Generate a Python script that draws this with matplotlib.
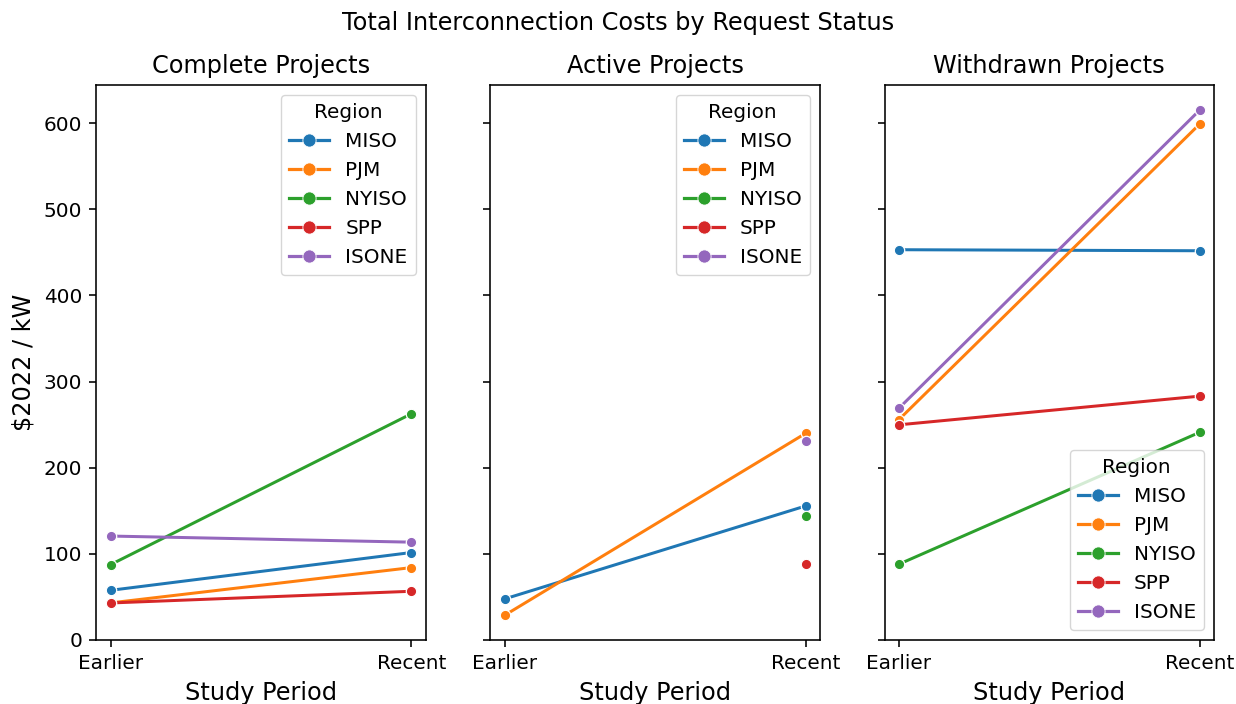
import numpy as np
import matplotlib
matplotlib.use("Agg")
import matplotlib.pyplot as plt

periods = ["Earlier", "Recent"]
regions = ["MISO", "PJM", "NYISO", "SPP", "ISONE"]
colors = ["#1f77b4", "#ff7f0e", "#2ca02c", "#d62728", "#9467bd"]
panel_titles = ["Complete Projects", "Active Projects", "Withdrawn Projects"]

complete_vals = {
    "MISO": [57.6, 101.5],
    "PJM": [43.0, 84.0],
    "NYISO": [87.4, 262.6],
    "SPP": [42.9, 56.5],
    "ISONE": [120.6, 113.5],
}
active_vals = {
    "MISO": [47.6, 155.5],
    "PJM": [28.6, 239.8],
    "NYISO": [np.nan, 143.5],
    "SPP": [np.nan, 87.8],
    "ISONE": [np.nan, 230.5],
}
withdrawn_vals = {
    "MISO": [453.0, 451.8],
    "PJM": [255.5, 598.8],
    "NYISO": [87.8, 241.0],
    "SPP": [249.7, 283.0],
    "ISONE": [268.7, 615.0],
}
panels = [complete_vals, active_vals, withdrawn_vals]
legend_locs = ["upper right", "upper right", "lower right"]

s = 1.44
plt.rcParams.update({
    "xtick.major.size": 3.5 * s, "ytick.major.size": 3.5 * s,
    "xtick.major.width": 0.8 * s, "ytick.major.width": 0.8 * s,
    "axes.linewidth": 0.8 * s,
    "xtick.major.pad": 3.5 * s, "ytick.major.pad": 3.5 * s,
})

fig, axes = plt.subplots(1, 3, figsize=(12.36, 7.04), dpi=100, sharey=True)
fig.subplots_adjust(left=0.078, right=0.982, top=0.879, bottom=0.091, wspace=0.197)

x = np.arange(len(periods))
for ax, vals, title, loc in zip(axes, panels, panel_titles, legend_locs):
    for reg, col in zip(regions, colors):
        ax.plot(x, vals[reg], color=col, lw=1.5 * s, marker="o", ms=7.5,
                mec="white", mew=0.9, label=reg)
    ax.set_xticks(x)
    ax.set_xticklabels(periods, fontsize=10 * s)
    ax.tick_params(axis="y", labelsize=10 * s)
    ax.set_xlabel("Study Period", fontsize=12 * s, labelpad=4 * s)
    ax.set_title(title, fontsize=12 * s, pad=6 * s)
    ax.margins(x=0.047)
    leg = ax.legend(title="Region", loc=loc, fontsize=10 * s, title_fontsize=10 * s)
    for h in leg.legend_handles:
        h.set_markersize(9.5)
        h.set_linewidth(2.3)
        h.set_markeredgewidth(0.6)

axes[0].set_ylim(0, 644)
axes[0].set_ylabel("$2022 / kW", fontsize=12 * s, labelpad=4 * s)
fig.suptitle("Total Interconnection Costs by Request Status", fontsize=12 * s, y=0.985)

fig.savefig("out.png", dpi=100)
